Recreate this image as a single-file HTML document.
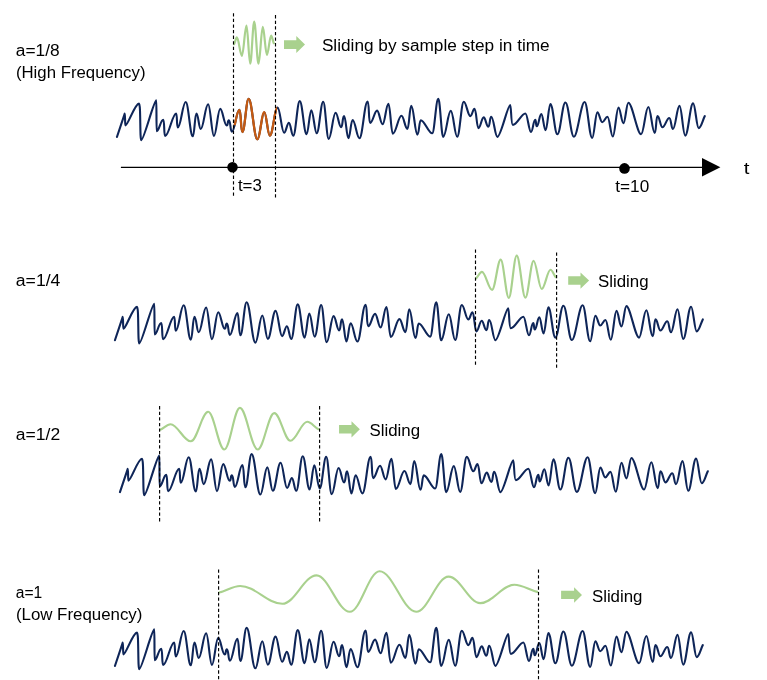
<!DOCTYPE html>
<html><head><meta charset="utf-8"><title>Wavelet scales</title>
<style>html,body{margin:0;padding:0;background:#fff;}body{width:767px;height:680px;overflow:hidden;font-family:"Liberation Sans",sans-serif;}svg{display:block;}</style>
</head><body>
<svg width="767" height="680" viewBox="0 0 767 680">
<rect width="767" height="680" fill="#fff"/>
<path d="M116.95 136.90 C119.68 128.75 122.41 120.59 124.75 113.60 C125.24 113.60 124.91 125.50 125.40 125.50 C127.90 125.50 134.80 103.60 139.00 103.60 C140.90 103.60 139.70 140.10 141.30 140.10 C143.90 140.10 153.80 100.40 156.30 100.40 C156.56 100.40 156.39 131.20 156.65 131.20 C159.20 131.20 160.65 119.70 163.20 119.70 C164.70 119.70 163.70 136.00 165.20 136.00 C168.90 136.00 172.40 113.50 176.10 113.50 C177.38 113.50 176.53 127.50 177.80 127.50 C180.88 127.50 182.62 102.00 185.70 102.00 C188.47 102.00 190.03 136.30 192.80 136.30 C194.60 136.30 194.70 113.50 196.50 113.50 C198.30 113.50 198.90 129.00 200.70 129.00 C203.61 129.00 205.24 104.20 208.15 104.20 C210.41 104.20 211.69 135.90 213.95 135.90 C216.39 135.90 217.76 108.90 220.20 108.90 C222.73 108.90 224.16 125.50 226.70 125.50 C228.35 125.50 227.25 120.20 228.90 120.20 C230.70 120.20 230.10 131.70 231.90 131.70 C234.83 131.70 236.47 109.80 239.40 109.80 C241.20 109.80 240.60 132.00 242.40 132.00 C244.82 132.00 246.18 98.90 248.60 98.90 C252.03 98.90 253.97 139.30 257.40 139.30 C260.09 139.30 261.61 112.20 264.30 112.20 C266.44 112.20 267.66 135.60 269.80 135.60 C272.84 135.60 274.56 107.60 277.60 107.60 C280.14 107.60 281.56 132.80 284.10 132.80 C285.97 132.80 287.03 122.90 288.90 122.90 C290.70 122.90 291.45 135.60 293.25 135.60 C295.79 135.60 297.21 101.10 299.75 101.10 C302.42 101.10 303.93 134.30 306.60 134.30 C308.43 134.30 309.47 110.20 311.30 110.20 C313.41 110.20 314.59 133.30 316.70 133.30 C319.24 133.30 320.66 101.70 323.20 101.70 C325.34 101.70 326.56 138.90 328.70 138.90 C331.39 138.90 332.91 112.80 335.60 112.80 C337.75 112.80 338.96 127.20 341.10 127.20 C342.90 127.20 342.30 116.10 344.10 116.10 C345.90 116.10 346.60 138.20 348.40 138.20 C350.20 138.20 350.80 120.00 352.60 120.00 C355.25 120.00 356.75 138.20 359.40 138.20 C362.60 138.20 364.40 101.50 367.60 101.50 C369.40 101.50 368.40 122.90 370.20 122.90 C372.89 122.90 374.41 110.60 377.10 110.60 C379.25 110.60 380.46 124.20 382.60 124.20 C384.88 124.20 386.17 103.70 388.45 103.70 C390.25 103.70 391.00 133.70 392.80 133.70 C396.19 133.70 398.11 115.80 401.50 115.80 C403.80 115.80 405.10 128.90 407.40 128.90 C409.20 128.90 409.50 105.90 411.30 105.90 C413.68 105.90 415.02 134.60 417.40 134.60 C419.20 134.60 419.10 120.20 420.80 120.20 C424.60 120.20 428.40 133.30 432.20 133.30 C434.50 133.30 435.92 98.90 438.30 98.90 C440.21 98.90 441.29 136.90 443.20 136.90 C446.16 136.90 447.84 110.90 450.80 110.90 C453.30 110.90 454.70 136.70 457.20 136.70 C459.77 136.70 461.23 101.70 463.80 101.70 C466.34 101.70 467.76 116.10 470.30 116.10 C472.10 116.10 472.75 108.90 474.55 108.90 C476.35 108.90 476.65 128.10 478.45 128.10 C480.50 128.10 481.65 117.40 483.70 117.40 C485.50 117.40 486.50 126.80 488.30 126.80 C490.10 126.80 489.50 116.70 491.30 116.70 C493.68 116.70 495.02 136.90 497.40 136.90 C500.80 136.90 507.70 105.00 510.20 105.00 C511.20 105.00 511.00 124.90 512.80 124.90 C517.20 124.90 521.20 113.50 525.40 113.50 C527.60 113.50 528.82 132.00 531.00 132.00 C532.80 132.00 533.40 119.70 535.20 119.70 C536.40 119.70 535.60 126.20 536.80 126.20 C538.60 126.20 539.50 114.10 541.30 114.10 C543.10 114.10 543.80 130.20 545.60 130.20 C547.47 130.20 548.53 104.10 550.40 104.10 C553.11 104.10 554.64 134.30 557.35 134.30 C560.49 134.30 562.26 102.50 565.40 102.50 C568.72 102.50 570.58 136.70 573.90 136.70 C577.60 136.70 580.90 102.00 584.60 102.00 C587.56 102.00 589.24 138.00 592.20 138.00 C594.23 138.00 595.37 112.40 597.40 112.40 C599.27 112.40 600.33 122.20 602.20 122.20 C604.27 122.20 605.43 116.70 607.50 116.70 C609.57 116.70 610.73 136.50 612.80 136.50 C615.02 136.50 616.28 107.60 618.50 107.60 C620.41 107.60 621.49 123.20 623.40 123.20 C625.35 123.20 626.45 102.80 628.40 102.80 C632.20 102.80 637.25 134.30 641.05 134.30 C643.90 134.30 645.50 107.00 648.35 107.00 C650.81 107.00 652.19 132.90 654.65 132.90 C656.45 132.90 655.80 116.10 657.60 116.10 C659.47 116.10 660.53 127.20 662.40 127.20 C665.09 127.20 666.61 118.00 669.30 118.00 C671.10 118.00 671.20 128.90 673.00 128.90 C675.53 128.90 676.97 105.90 679.50 105.90 C681.72 105.90 682.98 135.60 685.20 135.60 C688.28 135.60 690.02 103.40 693.10 103.40 C695.28 103.40 696.52 128.10 698.70 128.10 C701.08 128.10 702.66 120.30 704.80 116.10" fill="none" stroke="#0E2558" stroke-width="2.1" stroke-linejoin="round" stroke-linecap="round"/>
<path d="M114.95 340.20 C117.68 332.05 120.41 323.89 122.75 316.90 C123.24 316.90 122.91 328.80 123.40 328.80 C125.90 328.80 132.80 306.90 137.00 306.90 C138.90 306.90 137.70 343.40 139.30 343.40 C141.90 343.40 151.80 303.70 154.30 303.70 C154.56 303.70 154.39 334.50 154.65 334.50 C157.20 334.50 158.65 323.00 161.20 323.00 C162.70 323.00 161.70 339.30 163.20 339.30 C166.90 339.30 170.40 316.80 174.10 316.80 C175.38 316.80 174.53 330.80 175.80 330.80 C178.88 330.80 180.62 305.30 183.70 305.30 C186.47 305.30 188.03 339.60 190.80 339.60 C192.60 339.60 192.70 316.80 194.50 316.80 C196.30 316.80 196.90 332.30 198.70 332.30 C201.61 332.30 203.24 307.50 206.15 307.50 C208.41 307.50 209.69 339.20 211.95 339.20 C214.39 339.20 215.76 312.20 218.20 312.20 C220.73 312.20 222.16 328.80 224.70 328.80 C226.35 328.80 225.25 323.50 226.90 323.50 C228.70 323.50 228.10 335.00 229.90 335.00 C232.83 335.00 234.47 313.10 237.40 313.10 C239.20 313.10 238.60 335.30 240.40 335.30 C242.82 335.30 244.18 302.20 246.60 302.20 C250.03 302.20 251.97 342.60 255.40 342.60 C258.09 342.60 259.61 315.50 262.30 315.50 C264.44 315.50 265.66 338.90 267.80 338.90 C270.84 338.90 272.56 310.90 275.60 310.90 C278.14 310.90 279.56 336.10 282.10 336.10 C283.97 336.10 285.03 326.20 286.90 326.20 C288.70 326.20 289.45 338.90 291.25 338.90 C293.79 338.90 295.21 304.40 297.75 304.40 C300.42 304.40 301.93 337.60 304.60 337.60 C306.43 337.60 307.47 313.50 309.30 313.50 C311.41 313.50 312.59 336.60 314.70 336.60 C317.24 336.60 318.66 305.00 321.20 305.00 C323.34 305.00 324.56 342.20 326.70 342.20 C329.39 342.20 330.91 316.10 333.60 316.10 C335.75 316.10 336.96 330.50 339.10 330.50 C340.90 330.50 340.30 319.40 342.10 319.40 C343.90 319.40 344.60 341.50 346.40 341.50 C348.20 341.50 348.80 323.30 350.60 323.30 C353.25 323.30 354.75 341.50 357.40 341.50 C360.60 341.50 362.40 304.80 365.60 304.80 C367.40 304.80 366.40 326.20 368.20 326.20 C370.89 326.20 372.41 313.90 375.10 313.90 C377.25 313.90 378.46 327.50 380.60 327.50 C382.88 327.50 384.17 307.00 386.45 307.00 C388.25 307.00 389.00 337.00 390.80 337.00 C394.19 337.00 396.11 319.10 399.50 319.10 C401.80 319.10 403.10 332.20 405.40 332.20 C407.20 332.20 407.50 309.20 409.30 309.20 C411.68 309.20 413.02 337.90 415.40 337.90 C417.20 337.90 417.10 323.50 418.80 323.50 C422.60 323.50 426.40 336.60 430.20 336.60 C432.50 336.60 433.92 302.20 436.30 302.20 C438.21 302.20 439.29 340.20 441.20 340.20 C444.16 340.20 445.84 314.20 448.80 314.20 C451.30 314.20 452.70 340.00 455.20 340.00 C457.77 340.00 459.23 305.00 461.80 305.00 C464.34 305.00 465.76 319.40 468.30 319.40 C470.10 319.40 470.75 312.20 472.55 312.20 C474.35 312.20 474.65 331.40 476.45 331.40 C478.50 331.40 479.65 320.70 481.70 320.70 C483.50 320.70 484.50 330.10 486.30 330.10 C488.10 330.10 487.50 320.00 489.30 320.00 C491.68 320.00 493.02 340.20 495.40 340.20 C498.80 340.20 505.70 308.30 508.20 308.30 C509.20 308.30 509.00 328.20 510.80 328.20 C515.20 328.20 519.20 316.80 523.40 316.80 C525.60 316.80 526.82 335.30 529.00 335.30 C530.80 335.30 531.40 323.00 533.20 323.00 C534.40 323.00 533.60 329.50 534.80 329.50 C536.60 329.50 537.50 317.40 539.30 317.40 C541.10 317.40 541.80 333.50 543.60 333.50 C545.47 333.50 546.53 307.40 548.40 307.40 C551.11 307.40 552.64 337.60 555.35 337.60 C558.49 337.60 560.26 305.80 563.40 305.80 C566.72 305.80 568.58 340.00 571.90 340.00 C575.60 340.00 578.90 305.30 582.60 305.30 C585.56 305.30 587.24 341.30 590.20 341.30 C592.23 341.30 593.37 315.70 595.40 315.70 C597.27 315.70 598.33 325.50 600.20 325.50 C602.27 325.50 603.43 320.00 605.50 320.00 C607.57 320.00 608.73 339.80 610.80 339.80 C613.02 339.80 614.28 310.90 616.50 310.90 C618.41 310.90 619.49 326.50 621.40 326.50 C623.35 326.50 624.45 306.10 626.40 306.10 C630.20 306.10 635.25 337.60 639.05 337.60 C641.90 337.60 643.50 310.30 646.35 310.30 C648.81 310.30 650.19 336.20 652.65 336.20 C654.45 336.20 653.80 319.40 655.60 319.40 C657.47 319.40 658.53 330.50 660.40 330.50 C663.09 330.50 664.61 321.30 667.30 321.30 C669.10 321.30 669.20 332.20 671.00 332.20 C673.53 332.20 674.97 309.20 677.50 309.20 C679.72 309.20 680.98 338.90 683.20 338.90 C686.28 338.90 688.02 306.70 691.10 306.70 C693.28 306.70 694.52 331.40 696.70 331.40 C699.08 331.40 700.66 323.60 702.80 319.40" fill="none" stroke="#0E2558" stroke-width="2.1" stroke-linejoin="round" stroke-linecap="round"/>
<path d="M119.95 492.10 C122.68 483.94 125.41 475.79 127.75 468.80 C128.24 468.80 127.91 480.70 128.40 480.70 C130.90 480.70 137.80 458.80 142.00 458.80 C143.90 458.80 142.70 495.30 144.30 495.30 C146.90 495.30 156.80 455.60 159.30 455.60 C159.56 455.60 159.39 486.40 159.65 486.40 C162.20 486.40 163.65 474.90 166.20 474.90 C167.70 474.90 166.70 491.20 168.20 491.20 C171.90 491.20 175.40 468.70 179.10 468.70 C180.38 468.70 179.53 482.70 180.80 482.70 C183.88 482.70 185.62 457.20 188.70 457.20 C191.47 457.20 193.03 491.50 195.80 491.50 C197.60 491.50 197.70 468.70 199.50 468.70 C201.30 468.70 201.90 484.20 203.70 484.20 C206.61 484.20 208.24 459.40 211.15 459.40 C213.41 459.40 214.69 491.10 216.95 491.10 C219.39 491.10 220.76 464.10 223.20 464.10 C225.73 464.10 227.16 480.70 229.70 480.70 C231.35 480.70 230.25 475.40 231.90 475.40 C233.70 475.40 233.10 486.90 234.90 486.90 C237.83 486.90 239.47 465.00 242.40 465.00 C244.20 465.00 243.60 487.20 245.40 487.20 C247.82 487.20 249.18 454.10 251.60 454.10 C255.03 454.10 256.97 494.50 260.40 494.50 C263.09 494.50 264.61 467.40 267.30 467.40 C269.44 467.40 270.66 490.80 272.80 490.80 C275.84 490.80 277.56 462.80 280.60 462.80 C283.14 462.80 284.56 488.00 287.10 488.00 C288.97 488.00 290.03 478.10 291.90 478.10 C293.70 478.10 294.45 490.80 296.25 490.80 C298.79 490.80 300.21 456.30 302.75 456.30 C305.42 456.30 306.93 489.50 309.60 489.50 C311.43 489.50 312.47 465.40 314.30 465.40 C316.41 465.40 317.59 488.50 319.70 488.50 C322.24 488.50 323.66 456.90 326.20 456.90 C328.34 456.90 329.56 494.10 331.70 494.10 C334.39 494.10 335.91 468.00 338.60 468.00 C340.75 468.00 341.96 482.40 344.10 482.40 C345.90 482.40 345.30 471.30 347.10 471.30 C348.90 471.30 349.60 493.40 351.40 493.40 C353.20 493.40 353.80 475.20 355.60 475.20 C358.25 475.20 359.75 493.40 362.40 493.40 C365.60 493.40 367.40 456.70 370.60 456.70 C372.40 456.70 371.40 478.10 373.20 478.10 C375.89 478.10 377.41 465.80 380.10 465.80 C382.25 465.80 383.46 479.40 385.60 479.40 C387.88 479.40 389.17 458.90 391.45 458.90 C393.25 458.90 394.00 488.90 395.80 488.90 C399.19 488.90 401.11 471.00 404.50 471.00 C406.80 471.00 408.10 484.10 410.40 484.10 C412.20 484.10 412.50 461.10 414.30 461.10 C416.68 461.10 418.02 489.80 420.40 489.80 C422.20 489.80 422.10 475.40 423.80 475.40 C427.60 475.40 431.40 488.50 435.20 488.50 C437.50 488.50 438.92 454.10 441.30 454.10 C443.21 454.10 444.29 492.10 446.20 492.10 C449.16 492.10 450.84 466.10 453.80 466.10 C456.30 466.10 457.70 491.90 460.20 491.90 C462.77 491.90 464.23 456.90 466.80 456.90 C469.34 456.90 470.76 471.30 473.30 471.30 C475.10 471.30 475.75 464.10 477.55 464.10 C479.35 464.10 479.65 483.30 481.45 483.30 C483.50 483.30 484.65 472.60 486.70 472.60 C488.50 472.60 489.50 482.00 491.30 482.00 C493.10 482.00 492.50 471.90 494.30 471.90 C496.68 471.90 498.02 492.10 500.40 492.10 C503.80 492.10 510.70 460.20 513.20 460.20 C514.20 460.20 514.00 480.10 515.80 480.10 C520.20 480.10 524.20 468.70 528.40 468.70 C530.60 468.70 531.82 487.20 534.00 487.20 C535.80 487.20 536.40 474.90 538.20 474.90 C539.40 474.90 538.60 481.40 539.80 481.40 C541.60 481.40 542.50 469.30 544.30 469.30 C546.10 469.30 546.80 485.40 548.60 485.40 C550.47 485.40 551.53 459.30 553.40 459.30 C556.11 459.30 557.64 489.50 560.35 489.50 C563.49 489.50 565.26 457.70 568.40 457.70 C571.72 457.70 573.58 491.90 576.90 491.90 C580.60 491.90 583.90 457.20 587.60 457.20 C590.56 457.20 592.24 493.20 595.20 493.20 C597.23 493.20 598.37 467.60 600.40 467.60 C602.27 467.60 603.33 477.40 605.20 477.40 C607.27 477.40 608.43 471.90 610.50 471.90 C612.57 471.90 613.73 491.70 615.80 491.70 C618.02 491.70 619.28 462.80 621.50 462.80 C623.41 462.80 624.49 478.40 626.40 478.40 C628.35 478.40 629.45 458.00 631.40 458.00 C635.20 458.00 640.25 489.50 644.05 489.50 C646.90 489.50 648.50 462.20 651.35 462.20 C653.81 462.20 655.19 488.10 657.65 488.10 C659.45 488.10 658.80 471.30 660.60 471.30 C662.47 471.30 663.53 482.40 665.40 482.40 C668.09 482.40 669.61 473.20 672.30 473.20 C674.10 473.20 674.20 484.10 676.00 484.10 C678.53 484.10 679.97 461.10 682.50 461.10 C684.72 461.10 685.98 490.80 688.20 490.80 C691.28 490.80 693.02 458.60 696.10 458.60 C698.28 458.60 699.52 483.30 701.70 483.30 C704.08 483.30 705.66 475.50 707.80 471.30" fill="none" stroke="#0E2558" stroke-width="2.1" stroke-linejoin="round" stroke-linecap="round"/>
<path d="M114.95 665.90 C117.68 657.75 120.41 649.59 122.75 642.60 C123.24 642.60 122.91 654.50 123.40 654.50 C125.90 654.50 132.80 632.60 137.00 632.60 C138.90 632.60 137.70 669.10 139.30 669.10 C141.90 669.10 151.80 629.40 154.30 629.40 C154.56 629.40 154.39 660.20 154.65 660.20 C157.20 660.20 158.65 648.70 161.20 648.70 C162.70 648.70 161.70 665.00 163.20 665.00 C166.90 665.00 170.40 642.50 174.10 642.50 C175.38 642.50 174.53 656.50 175.80 656.50 C178.88 656.50 180.62 631.00 183.70 631.00 C186.47 631.00 188.03 665.30 190.80 665.30 C192.60 665.30 192.70 642.50 194.50 642.50 C196.30 642.50 196.90 658.00 198.70 658.00 C201.61 658.00 203.24 633.20 206.15 633.20 C208.41 633.20 209.69 664.90 211.95 664.90 C214.39 664.90 215.76 637.90 218.20 637.90 C220.73 637.90 222.16 654.50 224.70 654.50 C226.35 654.50 225.25 649.20 226.90 649.20 C228.70 649.20 228.10 660.70 229.90 660.70 C232.83 660.70 234.47 638.80 237.40 638.80 C239.20 638.80 238.60 661.00 240.40 661.00 C242.82 661.00 244.18 627.90 246.60 627.90 C250.03 627.90 251.97 668.30 255.40 668.30 C258.09 668.30 259.61 641.20 262.30 641.20 C264.44 641.20 265.66 664.60 267.80 664.60 C270.84 664.60 272.56 636.60 275.60 636.60 C278.14 636.60 279.56 661.80 282.10 661.80 C283.97 661.80 285.03 651.90 286.90 651.90 C288.70 651.90 289.45 664.60 291.25 664.60 C293.79 664.60 295.21 630.10 297.75 630.10 C300.42 630.10 301.93 663.30 304.60 663.30 C306.43 663.30 307.47 639.20 309.30 639.20 C311.41 639.20 312.59 662.30 314.70 662.30 C317.24 662.30 318.66 630.70 321.20 630.70 C323.34 630.70 324.56 667.90 326.70 667.90 C329.39 667.90 330.91 641.80 333.60 641.80 C335.75 641.80 336.96 656.20 339.10 656.20 C340.90 656.20 340.30 645.10 342.10 645.10 C343.90 645.10 344.60 667.20 346.40 667.20 C348.20 667.20 348.80 649.00 350.60 649.00 C353.25 649.00 354.75 667.20 357.40 667.20 C360.60 667.20 362.40 630.50 365.60 630.50 C367.40 630.50 366.40 651.90 368.20 651.90 C370.89 651.90 372.41 639.60 375.10 639.60 C377.25 639.60 378.46 653.20 380.60 653.20 C382.88 653.20 384.17 632.70 386.45 632.70 C388.25 632.70 389.00 662.70 390.80 662.70 C394.19 662.70 396.11 644.80 399.50 644.80 C401.80 644.80 403.10 657.90 405.40 657.90 C407.20 657.90 407.50 634.90 409.30 634.90 C411.68 634.90 413.02 663.60 415.40 663.60 C417.20 663.60 417.10 649.20 418.80 649.20 C422.60 649.20 426.40 662.30 430.20 662.30 C432.50 662.30 433.92 627.90 436.30 627.90 C438.21 627.90 439.29 665.90 441.20 665.90 C444.16 665.90 445.84 639.90 448.80 639.90 C451.30 639.90 452.70 665.70 455.20 665.70 C457.77 665.70 459.23 630.70 461.80 630.70 C464.34 630.70 465.76 645.10 468.30 645.10 C470.10 645.10 470.75 637.90 472.55 637.90 C474.35 637.90 474.65 657.10 476.45 657.10 C478.50 657.10 479.65 646.40 481.70 646.40 C483.50 646.40 484.50 655.80 486.30 655.80 C488.10 655.80 487.50 645.70 489.30 645.70 C491.68 645.70 493.02 665.90 495.40 665.90 C498.80 665.90 505.70 634.00 508.20 634.00 C509.20 634.00 509.00 653.90 510.80 653.90 C515.20 653.90 519.20 642.50 523.40 642.50 C525.60 642.50 526.82 661.00 529.00 661.00 C530.80 661.00 531.40 648.70 533.20 648.70 C534.40 648.70 533.60 655.20 534.80 655.20 C536.60 655.20 537.50 643.10 539.30 643.10 C541.10 643.10 541.80 659.20 543.60 659.20 C545.47 659.20 546.53 633.10 548.40 633.10 C551.11 633.10 552.64 663.30 555.35 663.30 C558.49 663.30 560.26 631.50 563.40 631.50 C566.72 631.50 568.58 665.70 571.90 665.70 C575.60 665.70 578.90 631.00 582.60 631.00 C585.56 631.00 587.24 667.00 590.20 667.00 C592.23 667.00 593.37 641.40 595.40 641.40 C597.27 641.40 598.33 651.20 600.20 651.20 C602.27 651.20 603.43 645.70 605.50 645.70 C607.57 645.70 608.73 665.50 610.80 665.50 C613.02 665.50 614.28 636.60 616.50 636.60 C618.41 636.60 619.49 652.20 621.40 652.20 C623.35 652.20 624.45 631.80 626.40 631.80 C630.20 631.80 635.25 663.30 639.05 663.30 C641.90 663.30 643.50 636.00 646.35 636.00 C648.81 636.00 650.19 661.90 652.65 661.90 C654.45 661.90 653.80 645.10 655.60 645.10 C657.47 645.10 658.53 656.20 660.40 656.20 C663.09 656.20 664.61 647.00 667.30 647.00 C669.10 647.00 669.20 657.90 671.00 657.90 C673.53 657.90 674.97 634.90 677.50 634.90 C679.72 634.90 680.98 664.60 683.20 664.60 C686.28 664.60 688.02 632.40 691.10 632.40 C693.28 632.40 694.52 657.10 696.70 657.10 C699.08 657.10 700.66 649.30 702.80 645.10" fill="none" stroke="#0E2558" stroke-width="2.1" stroke-linejoin="round" stroke-linecap="round"/>
<clipPath id="oc"><polygon points="233.2,90 277.1,90 277.1,150 236.5,150 236.5,125.3 233.2,125.3"/></clipPath>
<path clip-path="url(#oc)" d="M231.90 131.70 C234.83 131.70 236.47 109.80 239.40 109.80 C241.20 109.80 240.60 132.00 242.40 132.00 C244.82 132.00 246.18 98.90 248.60 98.90 C252.03 98.90 253.97 139.30 257.40 139.30 C260.09 139.30 261.61 112.20 264.30 112.20 C266.44 112.20 267.66 135.60 269.80 135.60 C272.84 135.60 274.56 107.60 277.60 107.60" fill="none" stroke="#C55A11" stroke-width="2.3" stroke-linejoin="round" stroke-linecap="round"/>
<path d="M234.10 44.20 C235.08 42.50 235.89 37.40 236.90 37.40 C238.70 37.40 240.10 55.90 241.90 55.90 C243.56 55.90 244.84 25.60 246.50 25.60 C247.83 25.60 248.87 63.70 250.20 63.70 C251.64 63.70 252.76 21.70 254.20 21.70 C255.75 21.70 256.95 63.70 258.50 63.70 C260.05 63.70 261.25 26.90 262.80 26.90 C264.28 26.90 265.42 55.00 266.90 55.00 C268.41 55.00 269.59 35.70 271.10 35.70 C272.07 35.70 272.86 41.33 273.80 43.20" fill="none" stroke="#A9D18E" stroke-width="2.2" stroke-linejoin="round" stroke-linecap="round"/>
<path d="M476.10 278.30 C478.13 276.68 479.81 271.80 481.90 271.80 C485.57 271.80 488.43 289.80 492.10 289.80 C495.20 289.80 497.60 259.60 500.70 259.60 C503.62 259.60 505.88 297.90 508.80 297.90 C511.64 297.90 513.86 255.60 516.70 255.60 C519.83 255.60 522.27 297.60 525.40 297.60 C528.35 297.60 530.65 260.80 533.60 260.80 C536.52 260.80 538.78 289.00 541.70 289.00 C544.87 289.00 547.33 269.70 550.50 269.70 C552.41 269.70 553.94 275.32 555.80 277.20" fill="none" stroke="#A9D18E" stroke-width="2.15" stroke-linejoin="round" stroke-linecap="round"/>
<path d="M160.40 429.70 C163.94 428.32 166.86 424.20 170.50 424.20 C177.81 424.20 183.49 441.30 190.80 441.30 C197.06 441.30 201.94 411.80 208.20 411.80 C214.00 411.80 218.50 449.50 224.30 449.50 C229.92 449.50 234.28 407.90 239.90 407.90 C246.31 407.90 251.29 449.50 257.70 449.50 C263.68 449.50 268.32 413.10 274.30 413.10 C280.10 413.10 284.60 440.80 290.40 440.80 C296.45 440.80 301.15 421.80 307.20 421.80 C311.23 421.80 314.48 427.35 318.40 429.20" fill="none" stroke="#A9D18E" stroke-width="2.1" stroke-linejoin="round" stroke-linecap="round"/>
<path d="M219.10 592.55 C226.48 590.91 232.60 586.00 240.20 586.00 C255.39 586.00 267.21 603.80 282.40 603.80 C294.68 603.80 304.22 575.40 316.50 575.40 C328.49 575.40 337.81 611.80 349.80 611.80 C360.53 611.80 368.87 571.20 379.60 571.20 C392.78 571.20 403.02 611.80 416.20 611.80 C427.86 611.80 436.94 576.60 448.60 576.60 C460.01 576.60 468.89 603.10 480.30 603.10 C492.54 603.10 502.06 584.80 514.30 584.80 C522.58 584.80 529.25 590.09 537.30 591.85" fill="none" stroke="#A9D18E" stroke-width="2.1" stroke-linejoin="round" stroke-linecap="round"/>
<line x1="233.50" y1="13.20" x2="233.50" y2="196.60" stroke="#000" stroke-width="1.15" stroke-dasharray="3.3 2.3"/>
<line x1="275.50" y1="15.10" x2="275.50" y2="198.70" stroke="#000" stroke-width="1.15" stroke-dasharray="3.3 2.3"/>
<line x1="475.50" y1="249.40" x2="475.50" y2="365.00" stroke="#000" stroke-width="1.15" stroke-dasharray="3.3 2.3"/>
<line x1="556.60" y1="252.50" x2="556.60" y2="368.40" stroke="#000" stroke-width="1.15" stroke-dasharray="3.3 2.3"/>
<line x1="159.60" y1="406.10" x2="159.60" y2="521.90" stroke="#000" stroke-width="1.15" stroke-dasharray="3.3 2.3"/>
<line x1="319.60" y1="406.10" x2="319.60" y2="521.90" stroke="#000" stroke-width="1.15" stroke-dasharray="3.3 2.3"/>
<line x1="218.60" y1="569.55" x2="218.60" y2="680.00" stroke="#000" stroke-width="1.15" stroke-dasharray="3.3 2.3"/>
<line x1="538.50" y1="569.55" x2="538.50" y2="680.00" stroke="#000" stroke-width="1.15" stroke-dasharray="3.3 2.3"/>
<line x1="120.9" y1="167.3" x2="704" y2="167.3" stroke="#000" stroke-width="1.2"/>
<polygon points="702,158 720.4,167.25 702,176.5" fill="#000"/>
<circle cx="232.5" cy="167.3" r="5.25" fill="#000"/>
<circle cx="624.5" cy="168.4" r="5.3" fill="#000"/>
<polygon points="284.00,40.20 296.30,40.20 296.30,36.10 305.00,44.50 296.30,52.90 296.30,48.90 284.00,48.90" fill="#A9D18E"/>
<polygon points="568.20,276.20 580.50,276.20 580.50,272.60 589.10,280.50 580.50,288.70 580.50,284.70 568.20,284.70" fill="#A9D18E"/>
<polygon points="339.05,425.10 351.50,425.10 351.50,421.20 359.85,429.35 351.50,437.50 351.50,433.40 339.05,433.40" fill="#A9D18E"/>
<polygon points="561.10,590.80 574.10,590.80 574.10,587.20 582.00,594.90 574.10,602.70 574.10,598.95 561.10,598.95" fill="#A9D18E"/>
<g font-family="'Liberation Sans', sans-serif" fill="#000" style="filter:grayscale(1)">
<text x="15.80" y="55.65" textLength="43.90" lengthAdjust="spacingAndGlyphs" font-size="15.8">a=1/8</text>
<text x="15.90" y="77.55" textLength="129.60" lengthAdjust="spacingAndGlyphs" font-size="15.8">(High Frequency)</text>
<text x="321.90" y="50.90" textLength="227.80" lengthAdjust="spacingAndGlyphs" font-size="15.8">Sliding by sample step in time</text>
<text x="237.90" y="191.40" textLength="23.90" lengthAdjust="spacingAndGlyphs" font-size="15.8">t=3</text>
<text x="615.30" y="191.70" textLength="33.90" lengthAdjust="spacingAndGlyphs" font-size="15.8">t=10</text>
<text x="743.70" y="173.50" textLength="5.70" lengthAdjust="spacingAndGlyphs" font-size="15.8">t</text>
<text x="15.80" y="285.50" textLength="44.60" lengthAdjust="spacingAndGlyphs" font-size="15.8">a=1/4</text>
<text x="598.00" y="286.50" textLength="50.60" lengthAdjust="spacingAndGlyphs" font-size="15.8">Sliding</text>
<text x="15.80" y="439.60" textLength="44.40" lengthAdjust="spacingAndGlyphs" font-size="15.8">a=1/2</text>
<text x="369.50" y="435.50" textLength="50.60" lengthAdjust="spacingAndGlyphs" font-size="15.8">Sliding</text>
<text x="15.80" y="597.60" textLength="26.50" lengthAdjust="spacingAndGlyphs" font-size="15.8">a=1</text>
<text x="15.90" y="619.70" textLength="126.50" lengthAdjust="spacingAndGlyphs" font-size="15.8">(Low Frequency)</text>
<text x="591.90" y="601.50" textLength="50.60" lengthAdjust="spacingAndGlyphs" font-size="15.8">Sliding</text>
</g>
</svg>
</body></html>
